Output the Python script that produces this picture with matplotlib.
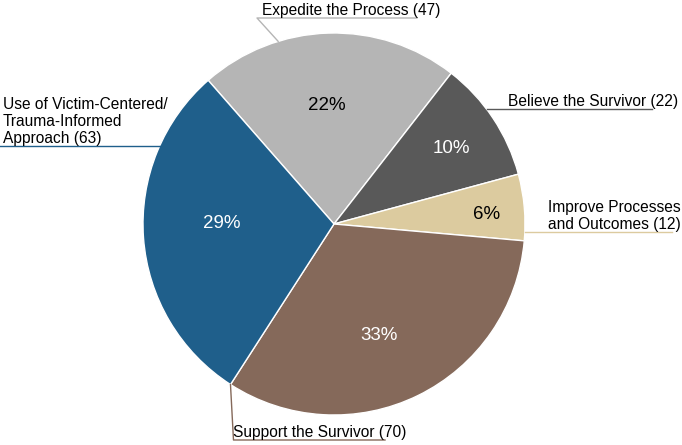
import numpy as np
import matplotlib
matplotlib.use("Agg")
import matplotlib.pyplot as plt

plt.rcParams["font.family"] = ["Liberation Sans", "DejaVu Sans"]

# ===============================
# DATA
# ===============================
categories = ["Expedite the Process", "Believe the Survivor",
              "Improve Processes\nand Outcomes", "Support the Survivor",
              "Use of Victim-Centered/\nTrauma-Informed\nApproach"]
counts = [47, 22, 12, 70, 63]
colors = ["#B5B5B5", "#595959", "#DCCB9F", "#85695A", "#1F5F8B"]
pct_colors = ["black", "white", "black", "white", "white"]

W, H = 682, 445
CX, CY, R = 334, 224, 191


def px(x, y):
    return x, H - y


fig = plt.figure(figsize=(W / 100, H / 100), dpi=100)
ax = fig.add_axes([0, 0, 1, 1])

wedges, texts, autotexts = ax.pie(
    counts, colors=colors, startangle=131.2, counterclock=False,
    center=px(CX, CY), radius=R, autopct="%.0f%%",
    wedgeprops=dict(edgecolor="white", linewidth=1),
)
ax.set_xlim(0, W)
ax.set_ylim(0, H)
ax.set_aspect("equal")
ax.axis("off")

# percent label placement: (radius fraction, angle nudge in degrees)
pct_dist = [0.62, 0.73, 0.80, 0.63, 0.59]
pct_nudge = [1.7, -0.8, -1.3, -4.0, -4.2]
for w, t, d, a, c in zip(wedges, autotexts, pct_dist, pct_nudge, pct_colors):
    mid = np.deg2rad((w.theta1 + w.theta2) / 2 + a)
    cx, cy = px(CX, CY)
    t.set_position((cx + d * R * np.cos(mid), cy + d * R * np.sin(mid)))
    t.set_color(c)
    t.set_fontsize(13.5)


def edge(angle):
    a = np.deg2rad(angle)
    cx, cy = px(CX, CY)
    return cx + R * np.cos(a), cy + R * np.sin(a)


fs = 11.2
ls = 1.2
lab = [f"{c} ({n})" for c, n in zip(categories, counts)]

# Expedite
ex, ey = edge(107)
ax.plot([ex, 257, 417], [ey, H - 18, H - 18], color=colors[0], lw=1)
ax.text(262, H - 18, lab[0], fontsize=fs, ha="left", va="bottom")

# Believe
bx, by = edge(37)
ax.plot([bx, 652], [by, by], color=colors[1], lw=1)
ax.text(508, by, lab[1], fontsize=fs, ha="left", va="bottom")

# Improve
ix, iy = edge(-2.4)
ax.plot([ix, 672], [iy, iy], color=colors[2], lw=1)
ax.text(548, iy, lab[2], fontsize=fs, ha="left", va="bottom",
        linespacing=ls)

# Support
sx, sy = edge(min(wedges[3].theta1, wedges[3].theta2))
ax.plot([sx, sx + 3, 385], [sy, H - 440, H - 440], color=colors[3], lw=1)
ax.text(233, H - 440, lab[3], fontsize=fs, ha="left", va="bottom")

# Use
ux, uy = edge(156)
ax.plot([0, ux], [uy, uy], color=colors[4], lw=1)
ax.text(3, uy, lab[4], fontsize=fs, ha="left", va="bottom",
        linespacing=ls)

fig.savefig("out.png", dpi=100)
